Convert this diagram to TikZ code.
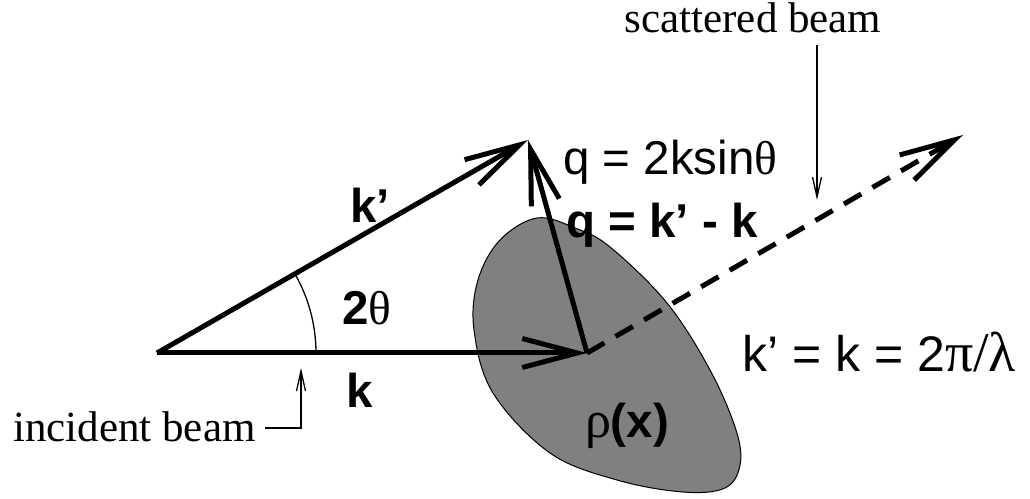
\documentclass[tikz,border=0pt]{standalone}
\usepackage{fontspec}
\setmainfont{Liberation Serif}
\newfontfamily\hv{Liberation Sans}
\newfontfamily\gk{Liberation Serif}
\usetikzlibrary{arrows.meta}
\definecolor{blobgray}{HTML}{808080}
\begin{document}
\begin{tikzpicture}[x=1pt,y=1pt,
  vec/.style={line width=5pt, -{Straight Barb[length=55pt,width=29pt,line width=5pt]}},
  thinarr/.style={line width=1.3pt, -{Straight Barb[length=20pt,width=9pt,line width=1.3pt]}},
  sanslbl/.style={font=\hv\fontsize{47.5}{50}\selectfont, inner sep=0pt},
  seriflbl/.style={font=\fontsize{43}{47}\selectfont, inner sep=0pt}]
\useasboundingbox (0,0) rectangle (1030,498);

% scattering object
\draw[fill=blobgray, line width=1pt] plot[smooth cycle, tension=0.6] coordinates {
  (537,280) (575,270) (610,251) (667,195) (710,128) (736,68) (740,33)
  (725,10) (683,6) (617,18) (550,45) (493,105) (474,168) (478,218) (500,258)};

% key points
\coordinate (O) at (157,145);
\coordinate (P) at (587,145);
\coordinate (A) at (528,358);
\coordinate (B) at (963,363);

% angle arc
\draw[line width=1.3pt] (O) ++(0:159pt) arc[start angle=0, end angle=29.86, radius=159pt];

% vectors
\draw[vec] (O) -- (P);
\draw[vec] (O) -- (A);
\draw[vec] (P) -- (A);
\draw[vec, dash pattern=on 20pt off 13pt] (P) -- (B);

% labels
\node[sanslbl, anchor=base] (kp) at (370,275) {\bfseries k’};
\node[sanslbl, anchor=base] (tw) at (367,173) {\bfseries 2{\gk\mdseries θ}};
\node[sanslbl, anchor=base] (kl) at (360,91) {\bfseries k};
\node[sanslbl, anchor=base west] (q1) at (563,323) {q = 2ksin{\gk θ}};
\node[sanslbl, anchor=base west] (q2) at (566,260) {\bfseries q = k’ - k};
\node[sanslbl, font=\hv\fontsize{50}{52}\selectfont, anchor=base west] (kk) at (742,126)
  {k’ = k = 2{\gk\fontsize{56}{56}\selectfont π/λ}};
\node[sanslbl, anchor=base] (rho) at (627,61) {{\gk\fontsize{52}{52}\selectfont ρ}\textbf{(x)}};
\node[seriflbl, anchor=base west] (inc) at (13,57) {incident beam};
\node[seriflbl, anchor=base] (scat) at (753,465) {scattered beam};

% pointers
\coordinate (incTip) at (301,130);
\coordinate (incStart) at (265,70);
\draw[thinarr] (incStart) -| (incTip);
\coordinate (scTip) at (817,298);
\coordinate (scStart) at (817,453);
\draw[thinarr] (scStart) -- (scTip);
\end{tikzpicture}
\end{document}
